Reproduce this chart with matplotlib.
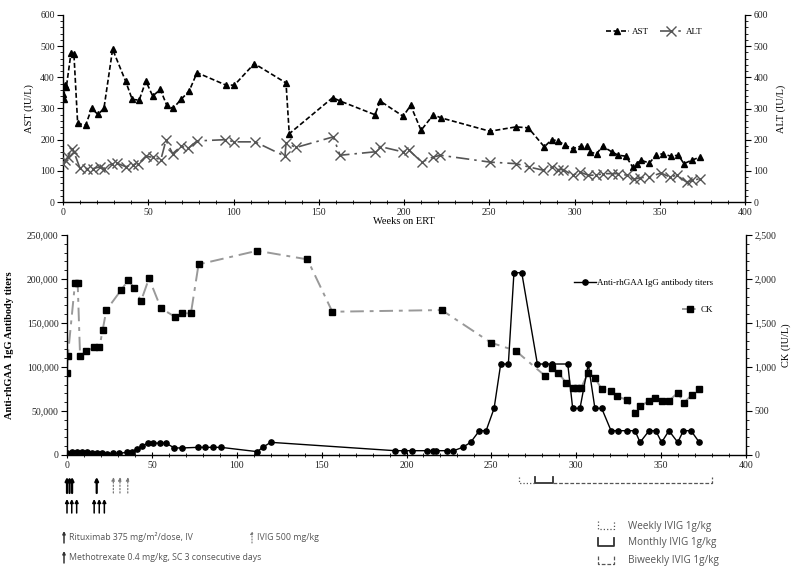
import matplotlib
matplotlib.use('Agg')
import matplotlib.pyplot as plt
import matplotlib.patches
from matplotlib.ticker import MultipleLocator, FuncFormatter
from matplotlib.lines import Line2D

plt.rcParams['font.family'] = ['Liberation Serif', 'DejaVu Serif']

# ---------------- data ----------------
ast_weeks = [0, 0.5, 1, 2, 4.7, 6.4, 8.6, 13.3, 16.8, 20.5, 24, 29.1, 36.7, 40.6, 44.7, 48.6,
             52.6, 57.1, 60.8, 64.5, 69.2, 74, 78.6, 95.6, 100.5, 112.2, 130.8, 132.7, 158.2, 162.5,
             183, 186, 199.5, 203.9, 210, 217.2, 221.7, 250.4, 265.7, 272.9, 282.3, 286.6, 290.5,
             294.4, 298.9, 303.6, 307.5, 309, 313, 316.5, 321.8, 325.7, 330.2, 334.1, 336.5, 339,
             343.9, 347.8, 351.7, 356.4, 360.9, 364.2, 368.7, 373.6]
ast_vals = [345, 330, 375, 370, 479, 475, 252, 247, 300, 281, 300, 490, 388, 329, 327, 388,
            340, 361, 311, 300, 329, 356, 415, 375, 375, 444, 382, 219, 335, 324,
            280, 324, 275, 310, 230, 280, 270, 227, 241, 238, 177, 200, 196,
            182, 171, 179, 179, 160, 155, 179, 161, 150, 147, 112, 123, 134,
            125, 150, 155, 147, 150, 123, 134, 144]

alt_weeks = [0, 1.3, 3, 5, 6.4, 9.9, 14.2, 17.7, 21.6, 24, 28.5, 31.4, 36.9, 40.8, 44.2, 48.6,
             52.9, 57.4, 60.4, 64.3, 69.2, 73.4, 78.6, 95.3, 100.5, 112.6, 130.2, 130.8, 136.7,
             158.5, 162.5, 183, 186, 199.2, 203, 210.4, 217, 221.3, 250.4, 265.7, 273.5, 281.7,
             286.6, 290.5, 293.4, 298.9, 303.2, 308.1, 312.6, 316.9, 321.8, 325.7, 330.6, 335.1,
             338.4, 343.9, 350.7, 356, 359.9, 365.7, 369.2, 373.6]
alt_vals = [123, 134, 145, 171, 161, 109, 107, 107, 113, 107, 123, 125, 113, 120, 123, 147,
            143, 136, 198, 155, 179, 172, 196, 200, 193, 193, 147, 189, 175,
            209, 150, 161, 178, 161, 166, 128, 144, 150, 128, 123, 112, 102,
            112, 104, 104, 86, 96, 86, 86, 91, 91, 91, 86, 73,
            78, 80, 93, 80, 86, 64, 69, 75]

ck_weeks = [0, 0.5, 4.7, 6.3, 7.7, 11.2, 16.1, 19.1, 21, 23.2, 31.9, 36.1, 39.7, 43.6, 48.3, 55.4,
            63.6, 67.6, 73, 77.5, 112.1, 141.6, 156.3, 220.7, 249.8, 264.3, 281.6, 285.5, 289.4,
            294, 298.2, 300.6, 302.9, 307.1, 311, 315, 320.5, 324.2, 329.7, 334.6, 337.6, 342.7,
            346.4, 350.3, 354.6, 359.7, 363.5, 368, 372.5]
ck_vals = [935, 1125, 1950, 1950, 1125, 1180, 1223, 1223, 1420, 1647, 1874, 1988, 1893, 1750, 2007, 1666,
           1571, 1610, 1610, 2166, 2321, 2223, 1628, 1647, 1276, 1185, 900, 985, 935,
           821, 765, 765, 765, 935, 878, 746, 727, 665, 628, 481, 552, 613,
           651, 613, 613, 708, 594, 682, 746]

titer_weeks = [0, 2.9, 5.8, 8.7, 11.6, 14.5, 17.5, 20.4, 23.4, 27.3, 30.8, 35.2, 38.1, 41.1, 44, 47.9,
               50.8, 54.8, 58.3, 63.2, 67.5, 77.4, 81.3, 86.2, 90.7, 112.1, 115.3, 120, 193.2, 198.5,
               203, 211.9, 215.8, 217.4, 223.7, 227.2, 233.1, 237.8, 242.9, 246.9, 251.6, 255.5, 260,
               263.3, 267.9, 277.1, 281.6, 285.5, 295, 297.9, 302.2, 307.1, 311, 315, 320.5, 324.4,
               329.7, 334.6, 337.6, 342.9, 346.8, 350.3, 354.6, 359.8, 363.1, 367.6, 372.5]
titer_vals = [1900, 3000, 3800, 3800, 3000, 1900, 1900, 1900, 1500, 1900, 1900, 3000, 3800, 6400, 10200, 13500,
              13500, 13500, 13500, 8000, 8000, 8700, 8700, 8700, 8700, 3800, 8700, 14400, 4900, 4900,
              4900, 4900, 4900, 4900, 4900, 4500, 8700, 14400, 27600, 27600, 53000, 103400, 103400,
              207100, 207100, 103400, 103400, 103400, 103400, 53000, 53000, 103400, 53000, 53000, 27600, 27600,
              27600, 27600, 14400, 27600, 27600, 14400, 27600, 14400, 27600, 27600, 14400]

rituximab_weeks = [0, 1.5, 3, 17.5]
ivig500_weeks = [27.3, 31.2, 35.8]
mtx_weeks = [0, 2.8, 5.7, 16, 19, 22]
ivig_weekly = (266.3, 275.7)
ivig_monthly = (275.7, 286.3)
ivig_biweekly = (286.3, 380)

x_ticks = [0, 50, 100, 150, 200, 250, 300, 350, 400]

# ---------------- layout helpers ----------------
W, H = 800, 576
def fx(p):
    return p / W
def fy(p):
    return 1 - p / H

fig = plt.figure(figsize=(8, 5.76), dpi=100)
ax1 = fig.add_axes([fx(63), fy(202), (745 - 63) / W, (202 - 15) / H])
ax1r = ax1.twinx()
ax2 = fig.add_axes([fx(67), fy(455), (746 - 67) / W, (455 - 235) / H])
ax2r = ax2.twinx()

tick_color = '#222222'

def style_axes(ax, axr):
    for a in (ax, axr):
        a.spines['top'].set_visible(False)
        for s in ('left', 'right', 'bottom'):
            a.spines[s].set_linewidth(1.0)
    ax.spines['right'].set_visible(False)
    axr.spines['left'].set_visible(False)
    axr.spines['bottom'].set_visible(False)
    ax.set_xlim(0, 400)
    ax.set_xticks(x_ticks)
    ax.xaxis.set_minor_locator(MultipleLocator(10))
    ax.tick_params(axis='x', which='major', direction='inout', length=5, labelsize=7,
                   labelcolor=tick_color, pad=2)
    ax.tick_params(axis='x', which='minor', direction='inout', length=3)
    ax.tick_params(axis='y', which='major', direction='out', length=4, labelsize=7,
                   labelcolor=tick_color, pad=2)
    ax.tick_params(axis='y', which='minor', direction='out', length=2)
    axr.tick_params(axis='y', which='major', direction='out', length=4, labelsize=7,
                    labelcolor=tick_color, pad=2)
    axr.tick_params(axis='y', which='minor', direction='out', length=2)

style_axes(ax1, ax1r)
style_axes(ax2, ax2r)

# ---------------- top panel ----------------
ax1.set_ylim(0, 600)
ax1r.set_ylim(0, 600)
ax1.yaxis.set_major_locator(MultipleLocator(100))
ax1.yaxis.set_minor_locator(MultipleLocator(20))
ax1r.yaxis.set_major_locator(MultipleLocator(100))
ax1r.yaxis.set_minor_locator(MultipleLocator(20))

l_ast, = ax1.plot(ast_weeks, ast_vals, color='black', lw=1.2, ls=(0, (3, 1.5)),
                  marker='^', ms=5, mfc='black', mec='black', label='AST')
l_alt, = ax1r.plot(alt_weeks, alt_vals, color='#555555', lw=1.2, ls=(0, (8, 3, 1.5, 3)),
                   marker='x', ms=6.5, mew=1.0, mec='#555555', label='ALT')

ax1.set_ylabel('AST (IU/L)', fontsize=7.5, labelpad=4)
ax1r.set_ylabel('ALT (IU/L)', fontsize=7.5, labelpad=6)
ax1.set_xlabel('Weeks on ERT', fontsize=7.5, labelpad=0)

fig.legend(handles=[l_ast, l_alt], loc='center', bbox_to_anchor=(fx(654), fy(32)),
           ncol=2, frameon=False, fontsize=6.5, handlelength=2.6, handletextpad=0.3,
           columnspacing=1.2, borderpad=0)

# ---------------- bottom panel ----------------
ax2.set_ylim(0, 250000)
ax2r.set_ylim(0, 2500)
ax2.yaxis.set_major_locator(MultipleLocator(50000))
ax2.yaxis.set_minor_locator(MultipleLocator(10000))
ax2r.yaxis.set_major_locator(MultipleLocator(500))
ax2r.yaxis.set_minor_locator(MultipleLocator(100))
comma = FuncFormatter(lambda v, p: f'{v:,.0f}')
ax2.yaxis.set_major_formatter(comma)
ax2r.yaxis.set_major_formatter(comma)

l_ck, = ax2r.plot(ck_weeks, ck_vals, color='#999999', lw=1.4, ls=(0, (7, 3, 2, 3)),
                  marker='s', ms=5, mfc='black', mec='black', label='CK', zorder=2)
l_tit, = ax2.plot(titer_weeks, titer_vals, color='black', lw=1.0, ls='-',
                  marker='o', ms=3.8, mfc='black', mec='black',
                  label='Anti-rhGAA IgG antibody titers')
ax2.set_zorder(ax2r.get_zorder() + 1)
ax2.patch.set_visible(False)

ax2.set_ylabel('Anti-rhGAA  IgG Antibody titers', fontsize=7.5, fontweight='bold')
ax2.yaxis.set_label_coords((14 - 67) / (746 - 67), 0.5)
ax2r.set_ylabel('CK (IU/L)', fontsize=7.5, labelpad=4)

leg1 = fig.legend(handles=[l_tit], loc='center right', bbox_to_anchor=(fx(718), fy(283)),
                  frameon=False, fontsize=6.5, handlelength=2.4, handletextpad=0.2, borderpad=0)
leg2 = fig.legend(handles=[l_ck], loc='center right', bbox_to_anchor=(fx(718), fy(310)),
                  frameon=False, fontsize=6.5, handlelength=1.8, handletextpad=0.3, borderpad=0)

# ---------------- treatment annotations below the bottom axis ----------------
xt = ax2.get_xaxis_transform()
def yfrac(p):
    return (455 - p) / 220.0

for w in rituximab_weeks:
    ax2.annotate('', xy=(w, yfrac(477)), xytext=(w, yfrac(493)), xycoords=xt, textcoords=xt,
                 arrowprops=dict(arrowstyle='-|>', lw=1.6, color='black',
                                 mutation_scale=5, shrinkA=0, shrinkB=0),
                 annotation_clip=False)
for w in ivig500_weeks:
    ax2.annotate('', xy=(w, yfrac(477)), xytext=(w, yfrac(493)), xycoords=xt, textcoords=xt,
                 arrowprops=dict(arrowstyle='-|>', lw=0.9, ls=':', color='#777777',
                                 mutation_scale=5, shrinkA=0, shrinkB=0),
                 annotation_clip=False)
for w in mtx_weeks:
    ax2.annotate('', xy=(w, yfrac(499)), xytext=(w, yfrac(513)), xycoords=xt, textcoords=xt,
                 arrowprops=dict(arrowstyle='-|>', lw=1.1, color='black',
                                 mutation_scale=5, shrinkA=0, shrinkB=0),
                 annotation_clip=False)

# IVIG schedule bracket
yb, yt = yfrac(483), yfrac(477)
ax2.plot([ivig_weekly[0], ivig_weekly[0], ivig_weekly[1]], [yt, yb, yb], transform=xt,
         color='#555555', lw=0.9, ls=':', clip_on=False)
ax2.plot([ivig_monthly[0], ivig_monthly[0], ivig_monthly[1], ivig_monthly[1]], [yt, yb, yb, yt],
         transform=xt, color='#333333', lw=1.3, ls='-', clip_on=False)
ax2.plot([ivig_biweekly[0], ivig_biweekly[1], ivig_biweekly[1]], [yb, yb, yt], transform=xt,
         color='#555555', lw=0.9, ls=(0, (3, 1.5)), clip_on=False)

# treatment legend (left)
txt_kw = dict(fontsize=6.3, color='#555555', family=['Open Sans', 'DejaVu Sans'], va='center')
def fig_arrow(xp, yp, style_kw):
    fig.add_artist(matplotlib.patches.FancyArrowPatch(
        (fx(xp), fy(yp + 6)), (fx(xp), fy(yp - 6)), transform=fig.transFigure,
        arrowstyle='-|>', mutation_scale=4, shrinkA=0, shrinkB=0, **style_kw))

fig_arrow(64, 537, dict(lw=1.1, color='#333333'))
fig.text(fx(69), fy(537), 'Rituximab 375 mg/m²/dose, IV', **txt_kw)
fig_arrow(252, 537, dict(lw=0.8, color='#777777', ls=':'))
fig.text(fx(257), fy(537), 'IVIG 500 mg/kg', **txt_kw)
fig_arrow(64, 557, dict(lw=1.1, color='#333333'))
fig.text(fx(69), fy(557), 'Methotrexate 0.4 mg/kg, SC 3 consecutive days', **txt_kw)

# IVIG schedule legend (right)
def bracket(yp, **kw):
    fig.add_artist(Line2D([fx(598), fx(598), fx(614), fx(614)],
                          [fy(yp - 5), fy(yp + 3), fy(yp + 3), fy(yp - 5)],
                          transform=fig.transFigure, **kw))

bracket(526, color='#555555', lw=0.9, ls=':')
fig.text(fx(628), fy(526), 'Weekly IVIG 1g/kg', **{**txt_kw, 'fontsize': 7.2})
bracket(543, color='#333333', lw=1.3, ls='-')
fig.text(fx(628), fy(543), 'Monthly IVIG 1g/kg', **{**txt_kw, 'fontsize': 7.2})
bracket(561, color='#555555', lw=0.9, ls=(0, (3, 1.5)))
fig.text(fx(628), fy(561), 'Biweekly IVIG 1g/kg', **{**txt_kw, 'fontsize': 7.2})

fig.savefig('out.png', dpi=100)
